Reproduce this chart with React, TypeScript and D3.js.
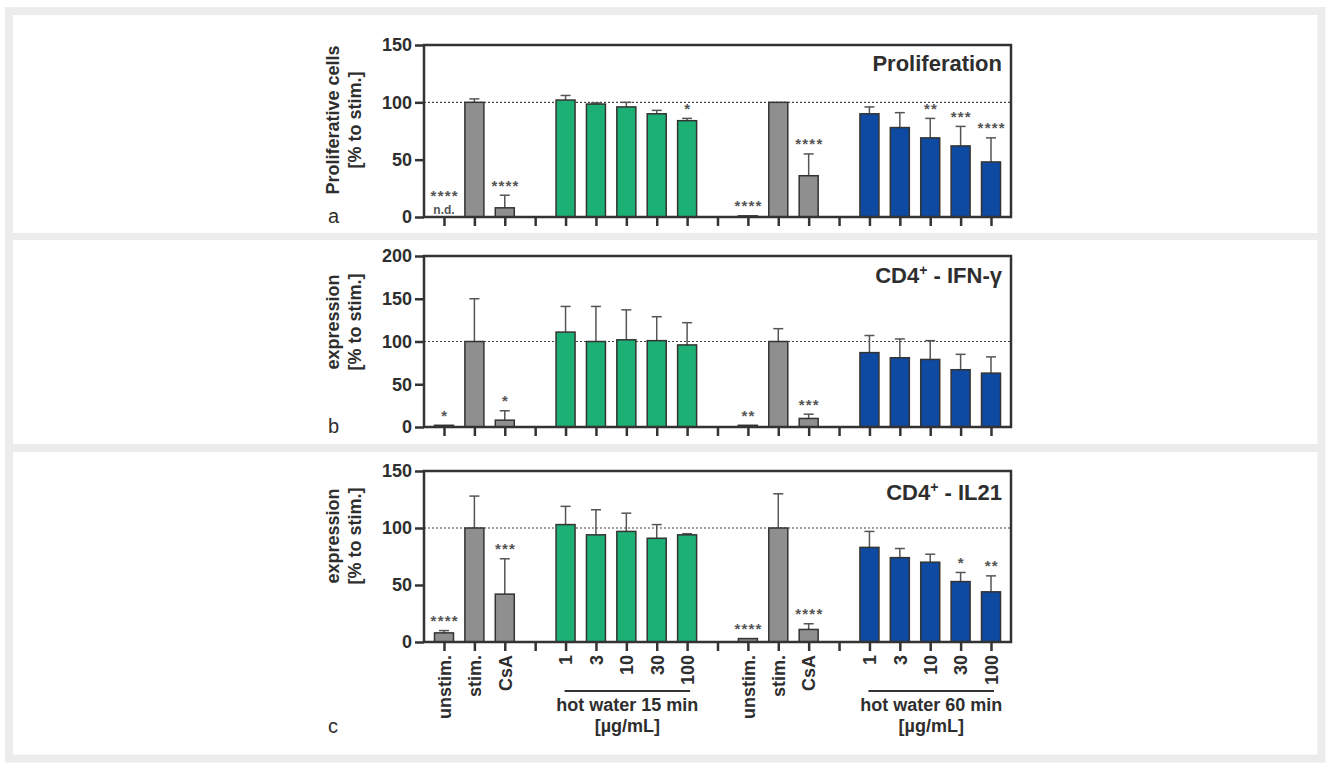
import React, { useEffect, useRef } from 'react';
import * as d3 from 'd3';

// x categories (gaps are empty slots on the axis)
const catKeys = ['unstimA', 'stimA', 'csaA', 'gap1', 'h15_1', 'h15_3', 'h15_10', 'h15_30', 'h15_100', 'gap2',
  'unstimB', 'stimB', 'csaB', 'gap3', 'h60_1', 'h60_3', 'h60_10', 'h60_30', 'h60_100'];
const catLabels = ['unstim.', 'stim.', 'CsA', '', '1', '3', '10', '30', '100', '',
  'unstim.', 'stim.', 'CsA', '', '1', '3', '10', '30', '100'];
const catGroups = ['ctrl', 'ctrl', 'ctrl', null, 'h15', 'h15', 'h15', 'h15', 'h15', null,
  'ctrl', 'ctrl', 'ctrl', null, 'h60', 'h60', 'h60', 'h60', 'h60'];

// panel a - proliferation
const prolifMean = [0, 100, 8, null, 102, 98.5, 96, 90, 84, null, 1, 100, 36, null, 90, 78, 69, 62, 48];
const prolifErr = [0, 3, 11, null, 4, 1, 4, 3, 2, null, 0, 0, 19, null, 6, 13, 17, 17, 21];
const prolifStars = ['****', '', '****', '', '', '', '', '', '*', '', '****', '', '****', '', '', '', '**', '***', '****'];
const prolifTicks = [0, 50, 100, 150];

// panel b - CD4+ IFN-gamma
const ifnMean = [2, 100, 8, null, 111, 100, 102, 101, 96, null, 2, 100, 10, null, 87, 81, 79, 67, 63];
const ifnErr = [0, 50, 11, null, 30, 41, 35, 28, 26, null, 0, 15, 5, null, 20, 22, 22, 18, 19];
const ifnStars = ['*', '', '*', '', '', '', '', '', '', '', '**', '', '***', '', '', '', '', '', ''];
const ifnTicks = [0, 50, 100, 150, 200];

// panel c - CD4+ IL21
const il21Mean = [8, 100, 42, null, 103, 94, 97, 91, 94, null, 3, 100, 11, null, 83, 74, 70, 53, 44];
const il21Err = [2, 28, 31, null, 16, 22, 16, 12, 1, null, 0, 30, 5, null, 14, 8, 7, 8, 14];
const il21Stars = ['****', '', '***', '', '', '', '', '', '', '', '****', '', '****', '', '', '', '', '*', '**'];
const il21Ticks = [0, 50, 100, 150];

const colors = { ctrl: '#8f8f8f', h15: '#1cb074', h60: '#0e4aa2' };
const font = '"Liberation Sans", Arial, sans-serif';
const ink = '#2e2e2e';

const left = 424, right = 1011;
const x = d3.scalePoint().domain(catKeys).range([444, 991]);
const barW = 19;

function drawPanel(svg, cfg) {
  const y = d3.scaleLinear().domain([0, cfg.max]).range([cfg.bottom, cfg.top]);
  const g = svg.append('g');

  g.append('line')
    .attr('x1', left).attr('x2', right)
    .attr('y1', y(100)).attr('y2', y(100))
    .attr('stroke', '#444').attr('stroke-width', 1.2).attr('stroke-dasharray', '2,2');

  const rows = catKeys.map((k, i) => ({ k, i, m: cfg.mean[i], e: cfg.err[i], s: cfg.stars[i], grp: catGroups[i] }))
    .filter(d => d.m !== null);

  // error whiskers (upper only)
  rows.filter(d => d.e > 0).forEach(d => {
    const cx = x(d.k);
    g.append('line').attr('x1', cx).attr('x2', cx).attr('y1', y(d.m)).attr('y2', y(d.m + d.e))
      .attr('stroke', '#555').attr('stroke-width', 1.5);
    g.append('line').attr('x1', cx - 5).attr('x2', cx + 5).attr('y1', y(d.m + d.e)).attr('y2', y(d.m + d.e))
      .attr('stroke', '#555').attr('stroke-width', 1.5);
  });

  g.selectAll('rect.bar')
    .data(rows.filter(d => d.m > 0))
    .enter().append('rect')
    .attr('class', 'bar')
    .attr('x', d => x(d.k) - barW / 2)
    .attr('width', barW)
    .attr('y', d => y(d.m))
    .attr('height', d => cfg.bottom - y(d.m))
    .attr('fill', d => colors[d.grp])
    .attr('stroke', '#333').attr('stroke-width', 1.5);

  // significance stars
  rows.filter(d => d.s).forEach(d => {
    const nd = d.m === 0;
    const cy = nd ? cfg.bottom - 25 : y(d.m + d.e) - 13;
    g.append('text').attr('x', x(d.k) + 0.7).attr('y', cy + 8.5)
      .attr('text-anchor', 'middle')
      .style('font', `bold 15px ${font}`).style('letter-spacing', '1.2px')
      .attr('fill', '#555').text(d.s);
    if (nd) {
      g.append('text').attr('x', x(d.k)).attr('y', cfg.bottom - 3)
        .attr('text-anchor', 'middle')
        .style('font', `bold 12px ${font}`).attr('fill', '#555').text('n.d.');
    }
  });

  // frame
  g.append('rect').attr('x', left).attr('y', cfg.top).attr('width', right - left).attr('height', cfg.bottom - cfg.top)
    .attr('fill', 'none').attr('stroke', '#333').attr('stroke-width', 2.5);

  const yAxis = g.append('g').attr('transform', `translate(${left},0)`)
    .call(d3.axisLeft(y).tickValues(cfg.ticks).tickSize(9).tickSizeOuter(0).tickPadding(3));
  yAxis.select('.domain').remove();
  yAxis.selectAll('line').attr('stroke', '#333').attr('stroke-width', 2.5);
  yAxis.selectAll('text').style('font', `bold 18px ${font}`).attr('fill', ink);

  const xAxis = g.append('g').attr('transform', `translate(0,${cfg.bottom})`)
    .call(d3.axisBottom(x).tickSize(9).tickSizeOuter(0)
      .tickFormat((k, i) => cfg.showLabels ? catLabels[i] : ''));
  xAxis.select('.domain').remove();
  xAxis.selectAll('line').attr('stroke', '#333').attr('stroke-width', 2.5);
  xAxis.selectAll('text')
    .attr('transform', 'rotate(-90)')
    .attr('text-anchor', 'end')
    .attr('x', -13).attr('y', 0).attr('dy', '0.35em')
    .style('font', `bold 18px ${font}`).attr('fill', ink);

  // y axis title, two lines
  cfg.yTitle.forEach((t, j) => {
    g.append('text')
      .attr('transform', `translate(${333 + j * 22},${cfg.titleMid}) rotate(-90)`)
      .attr('text-anchor', 'middle').attr('dy', '0.35em')
      .style('font', `bold 18px ${font}`).attr('fill', ink).text(t);
  });

  g.append('text').attr('x', 328).attr('y', cfg.letterY)
    .style('font', `20px ${font}`).attr('fill', ink).text(cfg.letter);

  // panel title, right aligned
  const tt = g.append('text').attr('x', 1002).attr('y', cfg.titleY).attr('text-anchor', 'end')
    .style('font', `bold 22px ${font}`).attr('fill', ink);
  if (cfg.sup) {
    tt.append('tspan').text(cfg.title[0]);
    tt.append('tspan').attr('dy', -8).style('font-size', '14px').text('+');
    tt.append('tspan').attr('dy', 8).text(cfg.title[1]);
  } else {
    tt.text(cfg.title[0]);
  }
}

function drawBracket(svg, first, last, label) {
  const x1 = x(first) - 1, x2 = x(last) + 3;
  svg.append('line').attr('x1', x1).attr('x2', x2).attr('y1', 691).attr('y2', 691)
    .attr('stroke', '#333').attr('stroke-width', 2);
  svg.append('text').attr('x', (x1 + x2) / 2).attr('y', 711).attr('text-anchor', 'middle')
    .style('font', `bold 18px ${font}`).attr('fill', ink).text(label);
  svg.append('text').attr('x', (x1 + x2) / 2).attr('y', 732).attr('text-anchor', 'middle')
    .style('font', `bold 18px ${font}`).attr('fill', ink).text('[µg/mL]');
}

export default function App() {
  const ref = useRef(null);

  useEffect(() => {
    const svg = d3.select(ref.current);
    svg.selectAll('*').remove();

    svg.append('rect').attr('width', 1332).attr('height', 763).attr('fill', '#fff');
    // light gray page frame and separators
    svg.append('rect').attr('x', 9).attr('y', 11).attr('width', 1312.5).attr('height', 747.5)
      .attr('fill', 'none').attr('stroke', '#ececec').attr('stroke-width', 8);
    svg.append('rect').attr('x', 13).attr('y', 233).attr('width', 1305).attr('height', 7).attr('fill', '#ececec');
    svg.append('rect').attr('x', 13).attr('y', 444).attr('width', 1305).attr('height', 8).attr('fill', '#ececec');

    drawPanel(svg, {
      top: 45, bottom: 217, max: 150, ticks: prolifTicks,
      mean: prolifMean, err: prolifErr, stars: prolifStars,
      yTitle: ['Proliferative cells', '[% to stim.]'], titleMid: 120,
      letter: 'a', letterY: 223, title: ['Proliferation'], titleY: 71, sup: false, showLabels: false
    });
    drawPanel(svg, {
      top: 256, bottom: 427, max: 200, ticks: ifnTicks,
      mean: ifnMean, err: ifnErr, stars: ifnStars,
      yTitle: ['expression', '[% to stim.]'], titleMid: 322,
      letter: 'b', letterY: 433, title: ['CD4', ' - IFN-γ'], titleY: 283, sup: true, showLabels: false
    });
    drawPanel(svg, {
      top: 471, bottom: 642, max: 150, ticks: il21Ticks,
      mean: il21Mean, err: il21Err, stars: il21Stars,
      yTitle: ['expression', '[% to stim.]'], titleMid: 536,
      letter: 'c', letterY: 733, title: ['CD4', ' - IL21'], titleY: 500, sup: true, showLabels: true
    });

    drawBracket(svg, 'h15_1', 'h15_100', 'hot water 15 min');
    drawBracket(svg, 'h60_1', 'h60_100', 'hot water 60 min');
  }, []);

  return (
    <svg ref={ref} width={1332} height={763} style={{ position: 'absolute', left: 0, top: 0 }} />
  );
}
